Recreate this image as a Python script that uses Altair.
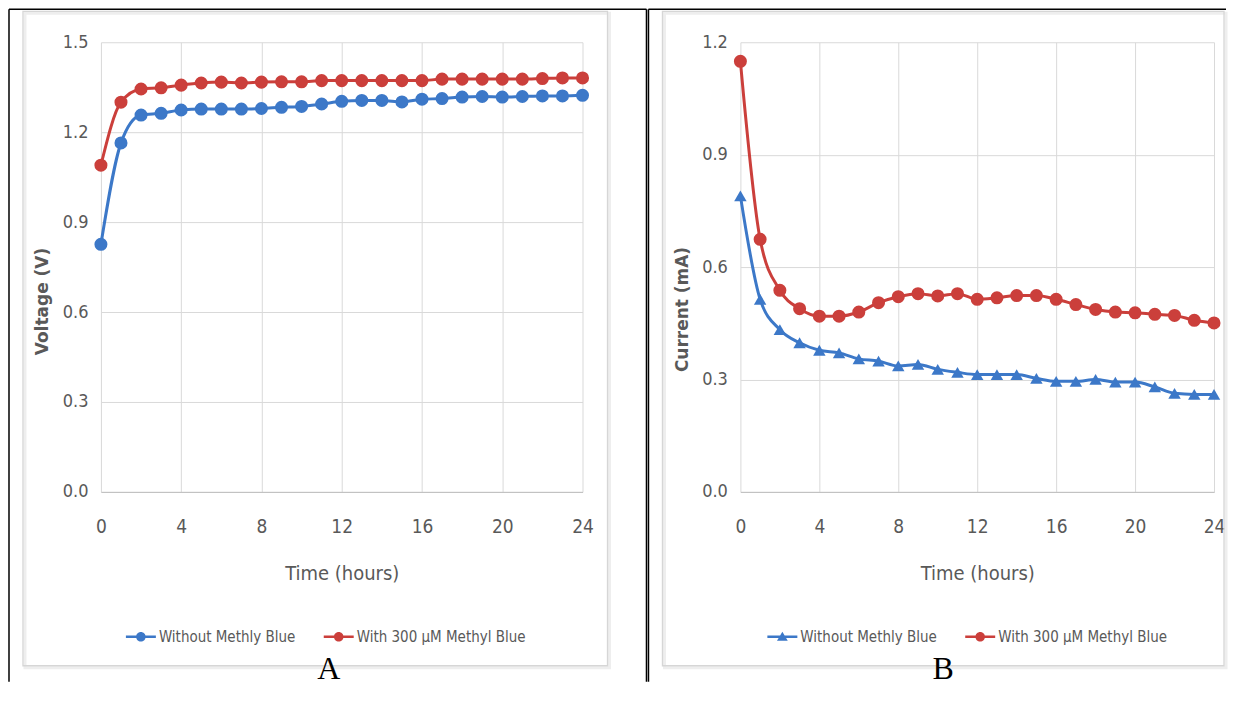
import altair as alt
import pandas as pd

HOURS = list(range(25))
SERIES = ["Without Methly Blue", "With 300 µM Methyl Blue"]
VOLT_WITHOUT = [0.826, 1.164, 1.257, 1.263, 1.274, 1.277, 1.277, 1.277, 1.279, 1.283,
                1.286, 1.294, 1.303, 1.306, 1.306, 1.301, 1.310, 1.312, 1.317, 1.319,
                1.317, 1.319, 1.321, 1.321, 1.323]
VOLT_WITH = [1.090, 1.300, 1.344, 1.348, 1.357, 1.364, 1.367, 1.364, 1.367, 1.368,
             1.368, 1.372, 1.372, 1.372, 1.372, 1.372, 1.372, 1.377, 1.377, 1.377,
             1.377, 1.377, 1.379, 1.381, 1.381]
CURR_WITHOUT = [0.790, 0.514, 0.433, 0.398, 0.378, 0.371, 0.355, 0.349, 0.336, 0.340,
                0.327, 0.319, 0.313, 0.313, 0.313, 0.303, 0.295, 0.295, 0.300, 0.293,
                0.293, 0.280, 0.263, 0.260, 0.260]
CURR_WITH = [1.149, 0.674, 0.538, 0.489, 0.469, 0.469, 0.480, 0.505, 0.521, 0.529,
             0.523, 0.529, 0.514, 0.518, 0.524, 0.524, 0.514, 0.500, 0.487, 0.480,
             0.478, 0.474, 0.471, 0.458, 0.451]
PANEL_LABELS = ["A", "B"]
X_TICKS = [0, 4, 8, 12, 16, 20, 24]
VOLT_TICKS = [0.0, 0.3, 0.6, 0.9, 1.2, 1.5]
CURR_TICKS = [0.0, 0.3, 0.6, 0.9, 1.2]

BLUE = "#3C78C8"
RED = "#CB3F3B"
GRID = "#d9d9d9"
TXT = "#595959"
NARROW = "Liberation Sans Narrow, DejaVu Sans Condensed, sans-serif"
H = 450

LINE_P = "M-1,-0.09L1,-0.09L1,0.09L-1,0.09Z"
CIRCLE_P = "M-0.32,0A0.32,0.32 0 1,1 0.32,0A0.32,0.32 0 1,1 -0.32,0Z"
TRI_P = "M0,-0.34L0.36,0.26L-0.36,0.26Z"


def long_df(a, b):
    return pd.DataFrame({
        "hour": HOURS * 2,
        "value": a + b,
        "series": [SERIES[0]] * len(HOURS) + [SERIES[1]] * len(HOURS),
    })


def legend(first_marker, lx):
    shape_expr = (f"datum.value === '{SERIES[0]}' ? '{LINE_P + first_marker}' : "
                  f"'{LINE_P + CIRCLE_P}'")
    fill_expr = f"datum.value === '{SERIES[0]}' ? '{BLUE}' : '{RED}'"
    return alt.Legend(
        title=None, orient="none", legendX=lx, legendY=580, direction="horizontal",
        labelFont=NARROW, labelFontSize=15, labelColor=TXT, labelLimit=0,
        columnPadding=28, symbolSize=900, symbolOpacity=1, labelOffset=3,
        symbolType={"expr": shape_expr}, symbolFillColor={"expr": fill_expr},
        symbolStrokeWidth=0,
    )


def panel(a, b, yticks, ytitle, title_y, first_shape, first_marker, lx,
          label, label_x, box_right, top_right, mid_x, left_x, width):
    df = long_df(a, b)
    one = alt.Data(values=[{"label": label}])
    x = alt.X("hour:Q", scale=alt.Scale(domain=[0, 24], nice=False),
              axis=alt.Axis(values=X_TICKS, title="Time (hours)", grid=True,
                            gridColor=GRID, ticks=False, domainColor="#bfbfbf",
                            labelFlush=False, labelPadding=26, labelFont=NARROW,
                            labelFontSize=19, labelColor=TXT, titleFont=NARROW,
                            titleFontSize=20, titleColor=TXT,
                            titleFontWeight="normal", titleY=82,
                            titleBaseline="middle"))
    y = alt.Y("value:Q", scale=alt.Scale(domain=[yticks[0], yticks[-1]], nice=False),
              axis=alt.Axis(values=yticks, format=".1f", title=ytitle, grid=True,
                            gridColor=GRID, ticks=False, domain=False, labelPadding=13,
                            labelFlush=False, labelFont=NARROW, labelFontSize=18,
                            labelColor=TXT, titleFont="DejaVu Sans", titleFontSize=17,
                            titleFontWeight="bold", titleColor=TXT, titleX=-58,
                            titleY=title_y, titleAngle=270, titleAlign="center",
                            titleBaseline="middle"))
    color = alt.Color("series:N", scale=alt.Scale(domain=SERIES, range=[BLUE, RED]),
                      legend=legend(first_marker, lx))

    shadow = alt.Chart(one).mark_rect(fill="transparent", stroke="#eeeeee",
                                      strokeWidth=3).encode(
        x=alt.value(-76), x2=alt.value(box_right + 2), y=alt.value(-29),
        y2=alt.value(626))
    box = alt.Chart(one).mark_rect(fill="transparent", stroke="#d6d6d6",
                                   strokeWidth=1.3).encode(
        x=alt.value(-78), x2=alt.value(box_right), y=alt.value(-31),
        y2=alt.value(624))
    top_rule = alt.Chart(one).mark_rule(color="black", strokeWidth=1.5).encode(
        x=alt.value(left_x), x2=alt.value(top_right), y=alt.value(-33))
    v_rules = alt.Chart(one).mark_rule(color="black", strokeWidth=1.5).encode(
        x=alt.value(mid_x), y=alt.value(-33), y2=alt.value(640))
    layers = [shadow, box, top_rule, v_rules]
    if left_x != mid_x:
        layers.append(alt.Chart(one).mark_rule(color="black", strokeWidth=1.5).encode(
            x=alt.value(left_x), y=alt.value(-33), y2=alt.value(640)))

    line = alt.Chart(df).mark_line(interpolate="monotone", strokeWidth=3).encode(
        x=x, y=y, color=color)
    pts_a = alt.Chart(df).transform_filter(
        alt.datum.series == SERIES[0]).mark_point(
        filled=True, opacity=1, size=170 if first_shape == "circle" else 155,
        shape=first_shape).encode(x=x, y=y, color=color)
    pts_b = alt.Chart(df).transform_filter(
        alt.datum.series == SERIES[1]).mark_point(
        filled=True, opacity=1, size=170, shape="circle").encode(x=x, y=y, color=color)
    txt = alt.Chart(one).mark_text(font="Liberation Serif", fontSize=32,
                                   color="black", baseline="alphabetic",
                                   align="center").encode(
        x=alt.value(label_x), y=alt.value(637), text="label:N")
    return alt.layer(*layers, line, pts_a, pts_b, txt).properties(width=width, height=H)


left = panel(VOLT_WITHOUT, VOLT_WITH, VOLT_TICKS, "Voltage (V)", 259, "circle",
             CIRCLE_P, 25, PANEL_LABELS[0], 228, 507, 546, 546, -92, 482)
right = panel(CURR_WITHOUT, CURR_WITH, CURR_TICKS, "Current (mA)", 267, "triangle-up",
              TRI_P, 27, PANEL_LABELS[1], 203, 484, 486, -92, -92, 474)

chart = alt.hconcat(left, right, spacing=0).resolve_scale(
    color="independent").resolve_legend(color="independent").properties(
    padding=0).configure_view(stroke=None)

chart.save("out.html", embed_options={"renderer": "svg", "actions": False})
